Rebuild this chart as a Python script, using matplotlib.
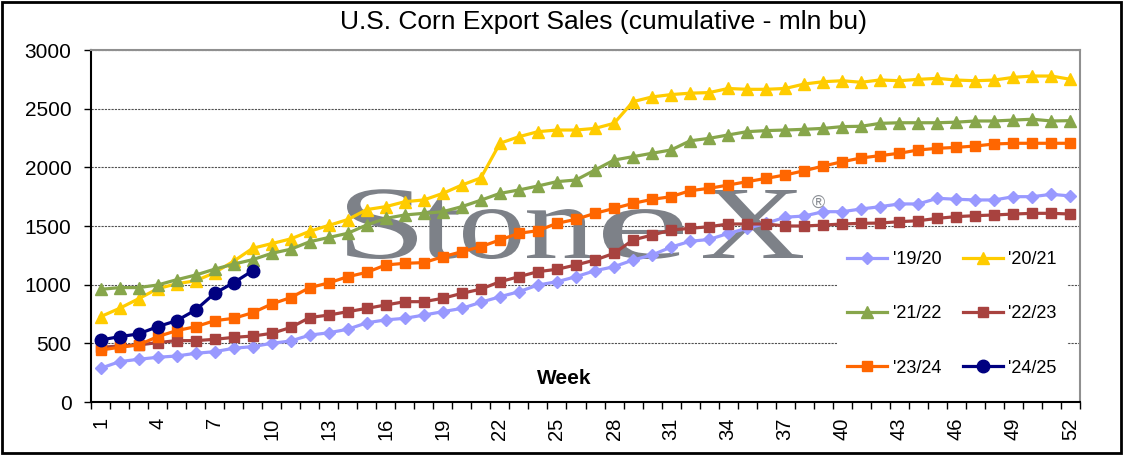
import numpy as np
import matplotlib
matplotlib.use("Agg")
import matplotlib.pyplot as plt
from matplotlib.textpath import TextPath
from matplotlib.patches import PathPatch, Rectangle
from matplotlib.font_manager import FontProperties
from matplotlib.transforms import Affine2D

plt.rcParams['font.family'] = ['Liberation Sans', 'DejaVu Sans']

# ------------------------------
# data (cumulative export sales, mln bu)
# ------------------------------
weeks = np.arange(1, 53)

my_1920 = [287, 344, 364, 381, 392, 415, 429, 458, 472, 500,
           520, 570, 590, 620, 675, 700, 713, 741, 770, 798, 850,
           897, 940, 997, 1025, 1068, 1119, 1153, 1210, 1253, 1320, 1370,
           1385, 1437, 1480, 1523, 1575, 1585, 1622, 1622, 1645, 1665,
           1688, 1688, 1736, 1728, 1722, 1722, 1750, 1750, 1770, 1756]

my_2021 = [727, 798, 880, 965, 1008, 1033, 1102, 1200, 1310,
           1350, 1390, 1455, 1505, 1555, 1640, 1665, 1707, 1722, 1778, 1849, 1910,
           2205, 2261, 2304, 2318, 2318, 2332, 2375, 2560, 2600, 2620, 2632,
           2637, 2672, 2665, 2665, 2672, 2710, 2730, 2738, 2725, 2745,
           2738, 2750, 2758, 2744, 2738, 2744, 2767, 2778, 2778, 2750]

my_2122 = [960, 975, 975, 997, 1042, 1082, 1132, 1175, 1213,
           1267, 1302, 1366, 1402, 1438, 1509, 1565, 1594, 1608, 1622, 1665, 1720,
           1778, 1807, 1841, 1878, 1892, 1977, 2062, 2091, 2120, 2148, 2226,
           2247, 2276, 2304, 2313, 2318, 2324, 2332, 2347, 2350, 2375,
           2380, 2380, 2380, 2385, 2395, 2395, 2403, 2410, 2395, 2398]

my_2223 = [466, 477, 486, 506, 523, 523, 534, 551, 562, 585,
           635, 720, 741, 770, 798, 827, 855, 855, 884, 926, 962,
           1025, 1068, 1111, 1131, 1168, 1210, 1267, 1381, 1423, 1466, 1480,
           1494, 1517, 1517, 1517, 1500, 1500, 1508, 1517, 1523, 1525,
           1537, 1545, 1565, 1580, 1588, 1594, 1602, 1608, 1608, 1602]

my_2324 = [443, 466, 486, 557, 608, 642, 693, 713, 761, 835,
           890, 975, 1015, 1068, 1105, 1168, 1182, 1188, 1238, 1281, 1324,
           1381, 1438, 1460, 1523, 1557, 1608, 1650, 1693, 1727, 1750, 1801,
           1821, 1849, 1878, 1906, 1935, 1971, 2011, 2048, 2080, 2100,
           2120, 2148, 2162, 2170, 2182, 2199, 2205, 2205, 2205, 2205]

my_2425 = [528, 557, 580, 642, 693, 784, 926, 1017, 1119]

labels = ["'19/20", "'20/21", "'21/22", "'22/23", "'23/24", "'24/25"]
colors = ['#9999FF', '#FFCC00', '#87A64B', '#A8423F', '#FF6600', '#000080']
markers = ['D', '^', '^', 's', 's', 'o']
msizes = [6, 8, 8, 7, 7, 9]

# ------------------------------
# figure
# ------------------------------
W, H = 1125, 455
fig = plt.figure(figsize=(W / 100, H / 100), dpi=100)
ax = fig.add_axes([91 / W, 1 - 402 / H, (1080 - 91) / W, (402 - 50) / H])

series = [my_1920, my_2021, my_2122, my_2223, my_2324, my_2425]
handles = []
for vals, lab, c, m, ms in zip(series, labels, colors, markers, msizes):
    h, = ax.plot(weeks[:len(vals)], vals, color=c, marker=m, markersize=ms,
                 linewidth=2.3, label=lab, zorder=3)
    handles.append(h)

# StoneX watermark: each letter placed in the pixel span it has in the original
wm_font = FontProperties(family='Liberation Serif')
wm_letters = [("S", 347, 417), ("t", 420, 461), ("o", 463, 521),
              ("n", 527, 593), ("e", 603, 683), ("X", 703, 803)]
cap = TextPath((0, 0), "X", size=100, prop=wm_font).get_extents()
sy = 68 / cap.height            # cap height 68 px, baseline at y=258
base = H - 258
for ch, xa, xb in wm_letters:
    tp = TextPath((0, 0), ch, size=100, prop=wm_font)
    bb = tp.get_extents()
    sx = (xb - xa) / bb.width
    tr = (Affine2D().translate(-bb.x0, 0).scale(sx / W, sy / H)
          .translate(xa / W, base / H) + fig.transFigure)
    ax.add_patch(PathPatch(tp, transform=tr, facecolor='#7d8188',
                           edgecolor='none', zorder=1.5))
fig.text(818 / W, 1 - 203 / H, "\u00ae", color='#8a8e94', fontsize=13, ha='center', va='center')

# axes, ticks, grid
ax.set_xlim(0.5, 52.5)
ax.set_ylim(0, 3000)
ax.set_yticks(np.arange(0, 3001, 500))
ax.set_xticks(np.arange(1, 53, 3))
ax.set_xticks(np.arange(0.5, 53, 1), minor=True)
ax.tick_params(axis='x', which='major', length=0, pad=11, labelsize=14.5, labelrotation=90)
ax.tick_params(axis='x', which='minor', length=5, width=1, direction='out')
ax.tick_params(axis='y', length=5, width=1, pad=9, labelsize=15)
ax.grid(axis='y', linestyle=(0, (2, 1)), linewidth=0.8, color='#505050', zorder=0)
ax.set_axisbelow(True)
for s in ['left', 'bottom']:
    ax.spines[s].set_color('black')
    ax.spines[s].set_linewidth(1.5)
for s in ['top', 'right']:
    ax.spines[s].set_color('#909090')
    ax.spines[s].set_linewidth(1.5)

ax.text(0.479, 0.068, "Week", transform=ax.transAxes, ha='center', va='center',
        fontsize=15, fontweight='bold')

order = [0, 2, 4, 1, 3, 5]
leg = ax.legend([handles[i] for i in order], [labels[i] for i in order],
                ncol=2, loc='center', bbox_to_anchor=(0.8706, 0.25),
                fontsize=13, frameon=True, facecolor='white', edgecolor='none',
                framealpha=1, fancybox=False, handlelength=2.2, handletextpad=0.3,
                columnspacing=1.2, labelspacing=2.05, borderpad=0.6)
leg.set_zorder(5)

fig.suptitle("U.S. Corn Export Sales (cumulative - mln bu)", x=603 / W, y=1 - 22 / H,
             va='center', fontsize=19)

# outer frame
fig.patches.append(Rectangle((0.002, 0.004), 0.994, 0.992, transform=fig.transFigure,
                             fill=False, edgecolor='black', linewidth=2))

fig.savefig("out.png", dpi=100)
